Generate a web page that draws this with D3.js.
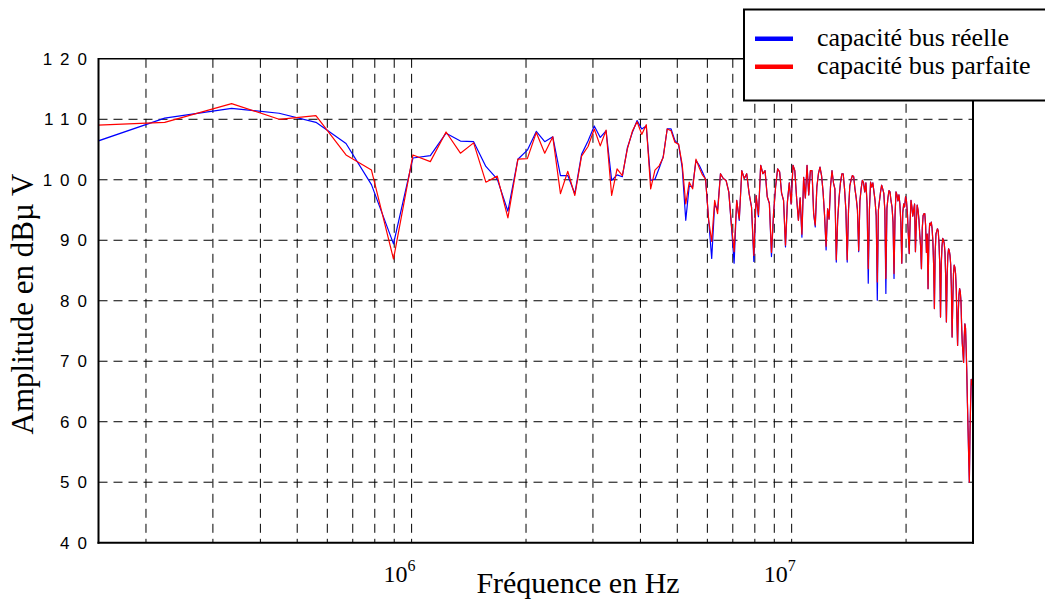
<!DOCTYPE html>
<html>
<head>
<meta charset="utf-8">
<script src="https://cdn.jsdelivr.net/npm/d3@7/dist/d3.min.js"></script>
<style>
    body { margin: 0; background: #fff; }
    svg { display: block; }
    .serif { font-family: "Liberation Serif", "Times New Roman", serif; fill: #000; }
    .tick-label { font-family: "Liberation Sans", Arial, sans-serif; font-size: 17px; fill: #000; }
    .grid line { stroke: #000; stroke-width: 1; stroke-dasharray: 9,6; }
</style>
</head>
<body>
<svg id="chart"></svg>
<script>
// fondamentale des harmoniques (Hz) : raie n = n * fondamentale
const fondamentale = 112e3;

const reelle = [
    103.7, 110.2, 111.8, 111.0, 109.5, 106.0, 99.2, 89.4, 103.6, 104.0,
    107.7, 106.4, 106.3, 102.2, 100.1, 94.8, 103.4, 104.9, 108.0, 106.3,
    107.1, 100.7, 100.7, 97.7, 104.2, 106.4, 108.9, 107.0, 108.1, 99.9,
    100.8, 100.5, 105.3, 107.8, 109.8, 108.4, 108.9, 99.9, 100.1, 101.9,
    103.8, 108.4, 108.4, 106.5, 105.8, 102.0, 93.3, 99.0, 98.8, 103.2,
    102.4, 101.3, 100.1, 93.3, 87.0, 96.0, 95.0, 101.0, 100.2, 99.9,
    98.0, 92.2, 86.2, 96.6, 93.3, 101.5, 100.2, 101.0, 97.7, 95.5,
    86.5, 97.4, 93.9, 102.4, 101.0, 101.5, 97.2, 96.1, 87.3, 94.4,
    98.8, 101.8, 101.3, 97.8, 96.6, 88.9, 96.3, 99.5, 96.0, 102.4,
    101.5, 97.0, 93.3, 97.0, 90.5, 100.4, 97.0, 102.4, 97.5, 101.5,
    101.5, 94.4, 92.2, 98.8, 101.0, 102.1, 100.7, 98.0, 94.0, 88.4,
    95.2, 93.5, 99.0, 101.5, 99.5, 98.5, 86.4, 93.5, 97.0, 99.5,
    101.0, 101.0, 98.5, 95.0, 86.4, 95.0, 99.0, 100.0, 100.7, 100.5,
    98.5, 97.0, 95.0, 88.1, 96.5, 98.5, 99.9, 99.5, 98.0, 99.5,
    96.0, 82.9, 95.0, 99.6, 98.8, 99.5, 98.0, 96.5, 94.0, 80.1,
    95.0, 96.5, 98.0, 99.1, 98.5, 97.8, 95.0, 81.2, 95.2, 97.0,
    98.2, 98.0, 96.5, 95.5, 93.0, 83.7, 94.0, 98.0, 97.5, 96.5,
    97.5, 96.0, 93.0, 86.2, 94.5, 96.0, 95.5, 97.2, 96.5, 94.5,
    91.0, 87.8, 93.0, 96.6, 95.5, 94.0, 95.0, 96.0, 88.1, 93.0,
    95.8, 95.0, 93.5, 91.0, 89.0, 85.3, 92.0, 94.1, 94.4, 94.4,
    92.5, 88.0, 91.0, 82.0, 90.0, 92.8, 92.5, 93.0, 92.0, 90.0,
    86.0, 78.7, 88.0, 91.0, 91.5, 91.9, 91.5, 89.5, 86.0, 77.3,
    86.0, 89.0, 90.3, 90.0, 89.5, 88.0, 84.0, 76.5, 84.0, 87.5,
    88.6, 88.3, 87.5, 86.0, 82.0, 74.0, 80.0, 84.5, 85.9, 85.5,
    84.5, 82.0, 77.0, 72.6, 78.0, 81.0, 82.0, 81.5, 80.0, 76.0,
    73.0, 71.5, 69.8, 74.0, 76.2, 75.5, 72.0, 68.0, 63.0, 58.5,
    54.0, 50.0, 58.0, 63.0, 67.0, 66.5, 66.0, 67.0
];

const parfaite = [
    108.7, 109.5, 112.6, 110.0, 110.6, 104.1, 101.6, 86.9, 104.1, 103.0,
    107.9, 104.4, 106.1, 99.6, 100.6, 93.7, 103.4, 103.5, 107.8, 104.4,
    107.1, 97.7, 101.4, 97.4, 103.9, 105.5, 108.4, 105.6, 108.2, 97.4,
    101.8, 100.7, 105.1, 108.0, 109.6, 107.5, 109.1, 98.5, 101.6, 102.3,
    103.7, 108.4, 108.1, 106.2, 105.9, 102.5, 96.0, 99.6, 98.5, 103.4,
    102.0, 100.8, 100.1, 93.3, 89.8, 96.6, 94.4, 101.0, 100.2, 99.9,
    98.0, 92.5, 88.1, 96.6, 93.5, 101.5, 100.2, 101.0, 97.7, 95.5,
    87.5, 97.4, 94.2, 102.4, 101.0, 101.5, 97.2, 96.1, 88.0, 94.4,
    98.8, 101.8, 101.3, 97.8, 96.6, 89.2, 96.3, 99.5, 96.0, 102.4,
    101.5, 97.0, 93.3, 97.0, 91.0, 100.4, 97.0, 102.4, 97.5, 101.5,
    101.5, 94.4, 92.5, 98.8, 101.0, 102.1, 100.7, 98.0, 94.0, 89.0,
    95.2, 93.5, 99.0, 101.5, 99.5, 98.5, 86.8, 93.5, 97.0, 99.5,
    101.0, 101.0, 98.5, 95.0, 86.8, 95.0, 99.0, 100.0, 100.7, 100.5,
    98.5, 97.0, 95.0, 88.3, 96.5, 98.5, 99.9, 99.5, 98.0, 99.5,
    96.0, 85.3, 95.0, 99.6, 98.8, 99.5, 98.0, 96.5, 94.0, 83.1,
    95.0, 96.5, 98.0, 99.1, 98.5, 97.8, 95.0, 83.7, 95.2, 97.0,
    98.2, 98.0, 96.5, 95.5, 93.0, 84.5, 94.0, 98.0, 97.5, 96.5,
    97.5, 96.0, 93.0, 86.2, 94.5, 96.0, 95.5, 97.2, 96.5, 94.5,
    91.0, 87.8, 93.0, 96.6, 95.5, 94.0, 95.0, 96.0, 88.1, 93.0,
    95.8, 95.0, 93.5, 91.0, 89.0, 85.3, 92.0, 94.1, 94.4, 94.4,
    92.5, 88.0, 91.0, 82.0, 90.0, 92.8, 92.5, 93.0, 92.0, 90.0,
    86.0, 78.7, 88.0, 91.0, 91.5, 91.9, 91.5, 89.5, 86.0, 77.3,
    86.0, 89.0, 90.3, 90.0, 89.5, 88.0, 84.0, 76.5, 84.0, 87.5,
    88.6, 88.3, 87.5, 86.0, 82.0, 74.0, 80.0, 84.5, 85.9, 85.5,
    84.5, 82.0, 77.0, 72.6, 78.0, 81.0, 82.0, 81.5, 80.0, 76.0,
    73.0, 71.5, 69.8, 74.0, 76.2, 75.5, 72.0, 68.0, 63.0, 58.5,
    54.0, 50.0, 58.0, 63.0, 67.0, 66.5, 66.0, 67.0
];

const yTicks = [40, 50, 60, 70, 80, 90, 100, 110, 120];
const xDomain = [1.5e5, 3e7];
const xGrid = [2e5, 3e5, 4e5, 5e5, 6e5, 7e5, 8e5, 9e5, 1e6,
    2e6, 3e6, 4e6, 5e6, 6e6, 7e6, 8e6, 9e6, 1e7, 2e7, 3e7];
const xDecades = [{ value: 1e6, base: "10", exp: "6" }, { value: 1e7, base: "10", exp: "7" }];
const series = [
    { name: "capacité bus réelle", color: "#0000ff", values: reelle },
    { name: "capacité bus parfaite", color: "#ff0000", values: parfaite }
];

class SpectrumChart {
    constructor(_config, _series) {
        this.config = {
            parentElement: _config.parentElement,
            containerWidth: _config.containerWidth || 1045,
            containerHeight: _config.containerHeight || 601,
            plot: _config.plot || { left: 98.5, top: 58.8, right: 973, bottom: 542.7 }
        };
        this.series = _series;
        this.initVis();
    }

    initVis() {
        let vis = this;
        const p = vis.config.plot;

        vis.svg = d3.select(vis.config.parentElement)
            .attr("width", vis.config.containerWidth)
            .attr("height", vis.config.containerHeight);

        vis.xScale = d3.scaleLog().domain(xDomain).range([p.left, p.right]);
        vis.yScale = d3.scaleLinear().domain([40, 120]).range([p.bottom, p.top]);

        vis.svg.append("clipPath").attr("id", "plot-clip")
            .append("rect")
            .attr("x", p.left).attr("y", p.top)
            .attr("width", p.right - p.left).attr("height", p.bottom - p.top);

        vis.renderVis();
    }

    renderVis() {
        let vis = this;
        const p = vis.config.plot;

        // grille pointillée
        const grid = vis.svg.append("g").attr("class", "grid");
        grid.selectAll(".hgrid")
            .data(yTicks.filter(d => d > 40 && d < 120))
            .join("line")
            .attr("x1", p.left).attr("x2", p.right)
            .attr("y1", d => vis.yScale(d)).attr("y2", d => vis.yScale(d));
        grid.selectAll(".vgrid")
            .data(xGrid)
            .join("line")
            .attr("x1", d => vis.xScale(d)).attr("x2", d => vis.xScale(d))
            .attr("y1", p.top).attr("y2", p.bottom);

        // courbes
        const line = d3.line()
            .x((d, i) => vis.xScale((i + 1) * fondamentale))
            .y(d => vis.yScale(d));

        vis.svg.append("g")
            .attr("clip-path", "url(#plot-clip)")
            .selectAll("path")
            .data(vis.series)
            .join("path")
            .attr("fill", "none")
            .attr("stroke", d => d.color)
            .attr("stroke-width", 1.2)
            .attr("stroke-linejoin", "round")
            .attr("d", d => line(d.values));

        // cadre
        const frame = vis.svg.append("g").attr("stroke", "#000").attr("fill", "none");
        frame.append("line").attr("x1", p.left).attr("x2", p.right).attr("y1", p.top).attr("y2", p.top).attr("stroke-width", 1.5);
        frame.append("line").attr("x1", p.left).attr("x2", p.left).attr("y1", p.top - 0.7).attr("y2", p.bottom + 1).attr("stroke-width", 2);
        frame.append("line").attr("x1", p.right).attr("x2", p.right).attr("y1", p.top - 0.7).attr("y2", p.bottom + 1).attr("stroke-width", 2);
        frame.append("line").attr("x1", p.left - 1).attr("x2", p.right + 1).attr("y1", p.bottom).attr("y2", p.bottom).attr("stroke-width", 2);

        // graduations de l'axe y
        const ls = 8;
        vis.svg.append("g")
            .selectAll("text")
            .data(yTicks)
            .join("text")
            .attr("class", "tick-label")
            .attr("x", 87 + ls)
            .attr("y", d => vis.yScale(d))
            .attr("dy", "0.36em")
            .attr("text-anchor", "end")
            .style("letter-spacing", ls + "px")
            .text(d => d);

        // décades de l'axe x
        const dec = vis.svg.append("g")
            .selectAll("text")
            .data(xDecades)
            .join("text")
            .attr("class", "serif")
            .attr("x", d => vis.xScale(d.value) - 12)
            .attr("y", 581.7)
            .attr("text-anchor", "middle")
            .style("font-size", "24px");
        dec.append("tspan").text(d => d.base);
        dec.append("tspan").attr("dy", -11).style("font-size", "16px").text(d => d.exp);

        // titres des axes
        vis.svg.append("text")
            .attr("class", "serif")
            .attr("x", 578).attr("y", 593)
            .attr("text-anchor", "middle")
            .style("font-size", "30px")
            .text("Fréquence en Hz");

        vis.svg.append("text")
            .attr("class", "serif")
            .attr("transform", "translate(33,304) rotate(-90)")
            .attr("text-anchor", "middle")
            .style("font-size", "31px")
            .text("Amplitude en dBµ V");

        // légende
        const legend = vis.svg.append("g");
        legend.append("rect")
            .attr("x", 744).attr("y", 9.5)
            .attr("width", 320).attr("height", 91)
            .attr("fill", "#fff").attr("stroke", "#000").attr("stroke-width", 2);
        const items = legend.selectAll(".item")
            .data(vis.series)
            .join("g")
            .attr("transform", (d, i) => `translate(0,${38.7 + i * 28})`);
        items.append("line")
            .attr("x1", 755).attr("x2", 793)
            .attr("stroke", d => d.color).attr("stroke-width", 4.5);
        items.append("text")
            .attr("class", "serif")
            .attr("x", 817).attr("y", 7)
            .style("font-size", "26px")
            .text(d => d.name);
    }
}

new SpectrumChart({ parentElement: "#chart" }, series);
</script>
</body>
</html>
